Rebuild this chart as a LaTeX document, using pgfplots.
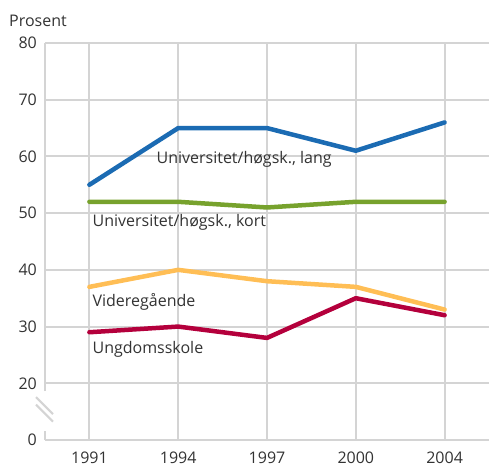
\documentclass[border=0pt]{standalone}
\usepackage{fontspec}
\setmainfont{Open Sans}
\usepackage{pgfplots}
\pgfplotsset{compat=1.18}
\definecolor{cblue}{HTML}{1B6BB3}
\definecolor{cgreen}{HTML}{77A22D}
\definecolor{cyellow}{HTML}{FFBE55}
\definecolor{cred}{HTML}{B4003C}
\definecolor{cgrid}{HTML}{D4D4D4}
\definecolor{ctext}{HTML}{333333}
\begin{document}
\fontsize{16bp}{19bp}\selectfont
\begin{tikzpicture}
\path[use as bounding box] (-45bp,-28bp) rectangle (444bp,440bp);
\begin{axis}[
  at={(0,0)}, anchor=south west,
  scale only axis, width=444bp, height=397bp,
  xmin=-0.5, xmax=4.5, ymin=10, ymax=80,
  xtick={0,1,2,3,4}, xticklabels={1991,1994,1997,2000,2004},
  ytick={10,20,30,40,50,60,70,80}, yticklabels={0,20,30,40,50,60,70,80},
  axis line style={draw=none},
  major tick length=0pt,
  xmajorgrids, ymajorgrids,
  grid style={cgrid, line width=2bp},
  /pgf/number format/assume math mode=true,
  ticklabel style={font=\fontsize{16bp}{19bp}\selectfont, text=ctext, inner sep=0pt},
  yticklabel style={xshift=-8bp},
  xticklabel style={yshift=-12bp},
  clip=false,
]
\draw[cgrid, line width=2bp] (axis cs:-0.5,18.6) -- (axis cs:-0.5,80);
\draw[cgrid, line width=2bp] (axis cs:-0.5,10) -- (axis cs:-0.5,11.5);
\draw[cgrid, line width=2bp] ([xshift=-9bp,yshift=-1.5bp]axis cs:-0.5,16.5) -- ++(17bp,-17bp);
\draw[cgrid, line width=2bp] ([xshift=-9bp,yshift=6bp]axis cs:-0.5,16.5) -- ++(17bp,-17bp);

\addplot[cblue, line width=4.5bp, line cap=round, line join=round] coordinates {(0,55) (1,65) (2,65) (3,61) (4,66)};
\addplot[cgreen, line width=4.5bp, line cap=round, line join=round] coordinates {(0,52) (1,52) (2,51) (3,52) (4,52)};
\addplot[cyellow, line width=4.5bp, line cap=round, line join=round] coordinates {(0,37) (1,40) (2,38) (3,37) (4,33)};
\addplot[cred, line width=4.5bp, line cap=round, line join=round] coordinates {(0,29) (1,30) (2,28) (3,35) (4,32)};

\node[anchor=base west, inner sep=0pt, text=ctext] at (axis cs:0.755,58.7) {Universitet/høgsk., lang};
\node[anchor=base west, inner sep=0pt, text=ctext] at (axis cs:0.034,47.6) {Universitet/høgsk., kort};
\node[anchor=base west, inner sep=0pt, text=ctext] at (axis cs:0.034,33.6) {Videregående};
\node[anchor=base west, inner sep=0pt, text=ctext] at (axis cs:0.034,25.3) {Ungdomsskole};
\end{axis}
\node[anchor=base west, inner sep=0pt, text=ctext] at (-36bp,413bp) {Prosent};
\end{tikzpicture}
\end{document}
